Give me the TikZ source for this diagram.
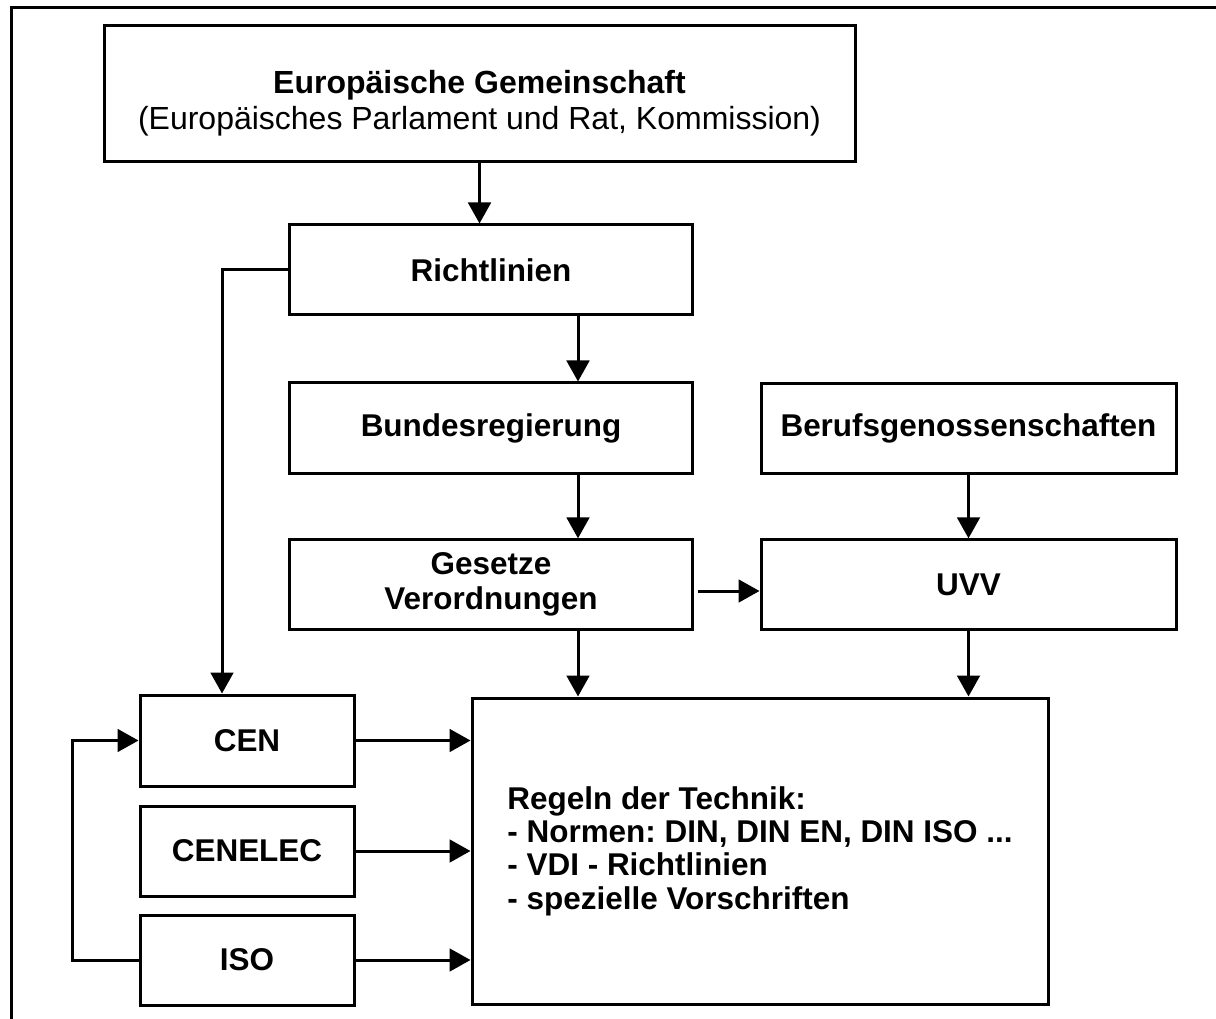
\documentclass[tikz,border=0pt]{standalone}
\usepackage{fontspec}
\setmainfont{Liberation Sans}
\usetikzlibrary{arrows.meta,positioning}

\newcommand{\boxfont}{\fontsize{23.6}{25.5}\selectfont\bfseries\frenchspacing}
\tikzset{
  box/.style={draw, line width=2.25pt, inner sep=0pt, align=center, font=\boxfont},
  arr/.style={line width=2.25pt, -{Triangle[length=15.75pt,width=17pt]}},
  link/.style={line width=2.25pt},
}

\begin{document}
\begin{tikzpicture}[x=0.75pt,y=0.75pt,yscale=-1,xscale=1]
\useasboundingbox (0,0) rectangle (1216,1019);
\draw [link] (11,1019) -- (11,8) -- (1216,8) ;
\node (eg) at (479.5,94) [box, minimum width=563.25pt, minimum height=102pt, font=\fontsize{24}{27}\selectfont\frenchspacing] {\rule{0pt}{31pt}\textbf{Europäische Gemeinschaft}\\(Europäisches Parlament und Rat, Kommission)};
\node (rl) at (491,270) [box, minimum width=302pt, minimum height=67.5pt] {Richtlinien};
\node (br) at (491,428) [box, minimum width=302pt, minimum height=67.5pt] {Bundesregierung};
\node (gv) at (491,584.5) [box, minimum width=302pt, minimum height=67pt, font=\fontsize{23.6}{26.25}\selectfont\bfseries] {Gesetze\\Verordnungen};
\node (bg) at (968.5,428.5) [box, minimum width=311.25pt, minimum height=67pt] {Berufsgenossenschaften};
\node (uvv) at (968.5,584.5) [box, minimum width=311.25pt, minimum height=67pt] {UVV};
\node (cen) at (247,740.5) [box, minimum width=160.5pt, minimum height=68.25pt] {CEN};
\node (cl) at (247,851) [box, minimum width=160.5pt, minimum height=67.5pt] {CENELEC};
\node (iso) at (247,960) [box, minimum width=160.5pt, minimum height=67.5pt] {ISO};
\node (rg) at (760,851) [box, align=left, minimum width=432pt, minimum height=229.5pt, font=\fontsize{23.6}{25}\selectfont\bfseries\frenchspacing] {Regeln der Technik:\\- Normen: DIN, DIN EN, DIN ISO ...\\- VDI - Richtlinien\\- spezielle Vorschriften};
\coordinate (colA) at (578,0);
\coordinate (colB) at (222,0);
\coordinate (colC) at (72,0);
\coordinate (rowG) at (0,591);
\draw [arr] (eg.south) -- (eg.south |- rl.north) ;
\draw [arr] (rl.south -| colA) -- (br.north -| colA) ;
\draw [arr] (br.south -| colA) -- (gv.north -| colA) ;
\draw [arr] (gv.south -| colA) -- (rg.north -| colA) ;
\draw [arr] (bg.south) -- (uvv.north) ;
\draw [arr] (uvv.south) -- (uvv.south |- rg.north) ;
\draw [arr, shorten <=3pt] (gv.east |- rowG) -- (uvv.west |- rowG) ;
\draw [arr] (rl.west) -| (colB |- cen.north) ;
\draw [arr] (cen.east) -- (cen.east -| rg.west) ;
\draw [arr] (cl.east) -- (cl.east -| rg.west) ;
\draw [arr] (iso.east) -- (iso.east -| rg.west) ;
\draw [arr] (iso.west) -- (iso.west -| colC) |- (cen.west) ;
\end{tikzpicture}
\end{document}
